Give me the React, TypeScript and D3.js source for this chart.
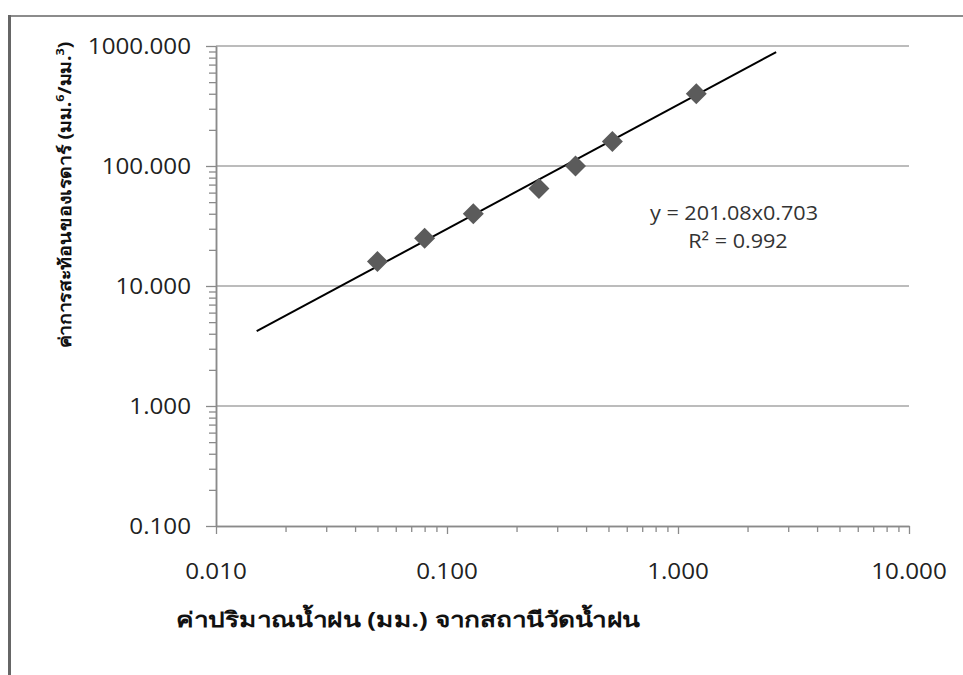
import { useEffect, useRef } from 'react'
import * as d3 from 'd3'

// rainfall (mm) vs radar reflectivity (mm^6/mm^3)
const rainfall = [0.05, 0.08, 0.13, 0.25, 0.36, 0.52, 1.2]
const reflectivity = [16, 25, 40, 65, 100, 160, 400]
// trend line end points as drawn
const trendX = [0.015, 2.66]
const trendY = [4.2, 890]
const xTicks = [0.01, 0.1, 1, 10]
const yTicks = [0.1, 1, 10, 100, 1000]
const equation = ['y = 201.08x0.703', 'R² = 0.992']
const xTitle = 'ค่าปริมาณน้ำฝน (มม.) จากสถานีวัดน้ำฝน'
const yTitle = 'ค่าการสะท้อนของเรดาร์ (มม.'

const W = 963
const H = 675
const NUM_FONT = '"Open Sans", "Liberation Sans", sans-serif'
const THAI_FONT = '"Noto Sans", "DejaVu Sans", sans-serif'

const minors = (lo: number, hi: number) => {
  const out: number[] = []
  for (let p = lo; p < hi; p *= 10) for (let k = 2; k <= 9; k++) out.push(p * k)
  return out
}

export default function App() {
  const svgRef = useRef<SVGSVGElement>(null)

  useEffect(() => {
    const svg = d3.select(svgRef.current)
    svg.selectAll('*').remove()

    const x = d3.scaleLog().domain([0.01, 10]).range([216, 909])
    const y = d3.scaleLog().domain([0.1, 1000]).range([526, 46])

    // frame
    svg.append('line').attr('x1', 8).attr('x2', W).attr('y1', 16).attr('y2', 16)
      .attr('stroke', '#8c8c8c').attr('stroke-width', 2)
    svg.append('line').attr('x1', 9.5).attr('x2', 9.5).attr('y1', 15).attr('y2', H)
      .attr('stroke', '#666').attr('stroke-width', 3)

    // gridlines
    svg.append('g').selectAll('line').data(yTicks.slice(1)).join('line')
      .attr('x1', x(0.01)).attr('x2', x(10))
      .attr('y1', d => y(d)).attr('y2', d => y(d))
      .attr('stroke', '#a6a6a6').attr('stroke-width', 1.3)

    const styleAxis = (gg: any) => {
      gg.select('.domain').attr('stroke', '#8a8a8a').attr('stroke-width', 1.5)
      gg.selectAll('.tick line').attr('stroke', '#8a8a8a').attr('stroke-width', 1.3)
      gg.selectAll('.tick text').remove()
    }

    // y axis: minor then major
    svg.append('g').attr('transform', `translate(${x(0.01)},0)`)
      .call(d3.axisLeft(y).tickValues(minors(0.1, 1000)).tickSize(7).tickSizeOuter(0).tickFormat(() => ''))
      .call(styleAxis)
    svg.append('g').attr('transform', `translate(${x(0.01)},0)`)
      .call(d3.axisLeft(y).tickValues(yTicks).tickSize(10).tickSizeOuter(0).tickFormat(() => ''))
      .call(styleAxis)

    // x axis
    svg.append('g').attr('transform', `translate(0,${y(0.1)})`)
      .call(d3.axisBottom(x).tickValues(minors(0.01, 10)).tickSize(6).tickSizeOuter(0).tickFormat(() => ''))
      .call(styleAxis)
    svg.append('g').attr('transform', `translate(0,${y(0.1)})`)
      .call(d3.axisBottom(x).tickValues(xTicks).tickSize(8).tickSizeOuter(0).tickFormat(() => ''))
      .call(styleAxis)

    const fmt = d3.format('.3f')
    svg.append('g').selectAll('text').data(yTicks).join('text')
      .attr('transform', d => `translate(191,${y(d)}) scale(1.1,1)`)
      .attr('text-anchor', 'end').attr('dy', '0.36em')
      .attr('font-family', NUM_FONT).attr('font-size', 22).attr('fill', '#222')
      .text(d => fmt(d))
    svg.append('g').selectAll('text').data(xTicks).join('text')
      .attr('transform', d => `translate(${x(d)},${571}) scale(1.1,1)`)
      .attr('text-anchor', 'middle').attr('dy', '0.36em')
      .attr('font-family', NUM_FONT).attr('font-size', 22).attr('fill', '#222')
      .text(d => fmt(d))

    // trend line
    const line = d3.line<number>().x(i => x(trendX[i])).y(i => y(trendY[i]))
    svg.append('path').attr('d', line([0, 1])).attr('stroke', '#000').attr('stroke-width', 2).attr('fill', 'none')

    // points
    const diamond = d3.symbol().type(d3.symbolSquare).size(220)
    svg.append('g').selectAll('path').data(rainfall).join('path')
      .attr('d', diamond)
      .attr('transform', (d, i) => `translate(${x(d)},${y(reflectivity[i])}) rotate(45)`)
      .attr('fill', '#5b5b5b')

    // equation
    svg.append('g').selectAll('text').data(equation).join('text')
      .attr('transform', (d, i) => `translate(${i === 0 ? 734 : 738},${220 + i * 28}) scale(1.08,1)`)
      .attr('text-anchor', 'middle')
      .attr('font-family', NUM_FONT).attr('font-size', 20).attr('fill', '#333')
      .text(d => d)

    // titles
    svg.append('text').attr('transform', 'translate(408,627) scale(1.25,1)').attr('text-anchor', 'middle')
      .attr('font-family', THAI_FONT).attr('font-weight', 'bold').attr('font-size', 21).attr('fill', '#111')
      .text(xTitle)
    const yt = svg.append('text').attr('transform', 'translate(71,195) rotate(-90) scale(1.15,1)').attr('text-anchor', 'middle')
      .attr('font-family', THAI_FONT).attr('font-weight', 'bold').attr('font-size', 17).attr('fill', '#111')
    yt.append('tspan').text(yTitle)
    yt.append('tspan').attr('dy', -7).attr('font-size', 11).text('6')
    yt.append('tspan').attr('dy', 7).text('/มม.')
    yt.append('tspan').attr('dy', -7).attr('font-size', 11).text('3')
    yt.append('tspan').attr('dy', 7).text(')')
  }, [])

  return (
    <svg ref={svgRef} width={W} height={H}
      style={{ position: 'absolute', left: 0, top: 0, background: '#fff', display: 'block' }} />
  )
}
